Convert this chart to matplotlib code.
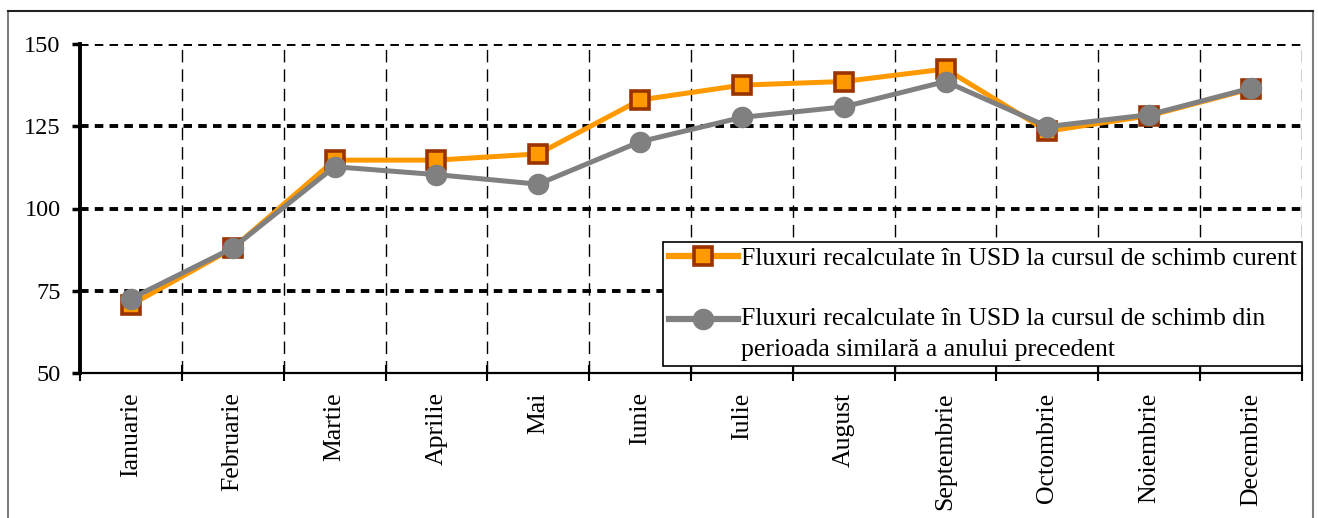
import matplotlib
matplotlib.use("Agg")
import matplotlib.pyplot as plt
from matplotlib.lines import Line2D
import numpy as np

months = ["Ianuarie", "Februarie", "Martie", "Aprilie", "Mai", "Iunie",
          "Iulie", "August", "Septembrie", "Octombrie", "Noiembrie", "Decembrie"]
curent = [70.7, 87.9, 114.7, 114.7, 116.6, 133.0, 137.5, 138.6, 142.4, 123.5, 128.2, 136.4]
precedent = [72.6, 88.0, 112.7, 110.3, 107.4, 120.3, 127.7, 130.9, 138.6, 124.9, 128.5, 136.6]
yticks = [50, 75, 100, 125, 150]
label_curent = "Fluxuri recalculate în USD la cursul de schimb curent"
label_precedent = "Fluxuri recalculate în USD la cursul de schimb din\nperioada similară a anului precedent"

plt.rcParams['font.family'] = ['Liberation Serif', 'DejaVu Serif']

W, H = 1318, 518
fig = plt.figure(figsize=(W / 100, H / 100), dpi=100)
fig.patch.set_facecolor('white')

# outer frame (clipped at the bottom)
fig.add_artist(Line2D([8 / W, 8 / W], [0, 1 - 11 / H], color='#7f7f7f', lw=1.5))
fig.add_artist(Line2D([1313 / W, 1313 / W], [0, 1 - 11 / H], color='#7f7f7f', lw=1.5))
fig.add_artist(Line2D([8 / W, 1313 / W], [1 - 11 / H, 1 - 11 / H], color='#222222', lw=1.5))

ax = fig.add_axes([80 / W, 1 - 373 / H, (1302 - 80) / W, (373 - 44) / H])
x = np.arange(len(months))
ax.set_xlim(-0.5, len(months) - 0.5)
ax.set_ylim(50, 150)

# grid
for y in yticks[1:]:
    ax.axhline(y, color='black', lw=2.8, linestyle=(0, (2.2, 1.6)), zorder=1)
for b in np.arange(0.5, len(months) + 0.5, 1.0):
    ax.axvline(b, color='black', lw=1.0, linestyle=(0, (9, 5)), zorder=1)

ax.plot(x, curent, color='#FF9900', lw=3.6, marker='s', markersize=12.5,
        markerfacecolor='#FF9900', markeredgecolor='#993300', markeredgewidth=2.6,
        zorder=3, label=label_curent)
ax.plot(x, precedent, color='#808080', lw=3.6, marker='o', markersize=14.5,
        markerfacecolor='#808080', markeredgecolor='#808080',
        zorder=4, label="\n" + label_precedent)

for s in ['top', 'right']:
    ax.spines[s].set_visible(False)
ax.spines['left'].set_linewidth(2.8)
ax.spines['bottom'].set_linewidth(1.6)

ax.set_yticks(yticks)
ax.set_yticklabels([str(v) for v in yticks], fontsize=17.5)
ax.tick_params(axis='y', direction='out', length=6, width=2.5, pad=8)

ax.set_xticks(x)
ax.set_xticklabels(months, rotation=90, fontsize=18.5, va='top', ha='center')
ax.tick_params(axis='x', which='major', length=0, pad=14)
ax.set_xticks(np.arange(-0.5, len(months), 1.0), minor=True)
ax.tick_params(axis='x', which='minor', direction='inout', length=11, width=1.5)

leg = ax.legend(loc='lower right', bbox_to_anchor=(1.0, 0.022), fontsize=18.5,
                frameon=True, fancybox=False, edgecolor='black', framealpha=1,
                handlelength=2.7, handletextpad=0.12, labelspacing=0.3,
                borderpad=0.2, borderaxespad=0.0)
for t in leg.get_texts():
    t.set_linespacing(1.5)
for line in leg.get_lines():
    line.set_linewidth(4.5)
leg.get_frame().set_linewidth(1.2)
leg.set_zorder(10)

fig.savefig("out.png", dpi=100, facecolor='white')
